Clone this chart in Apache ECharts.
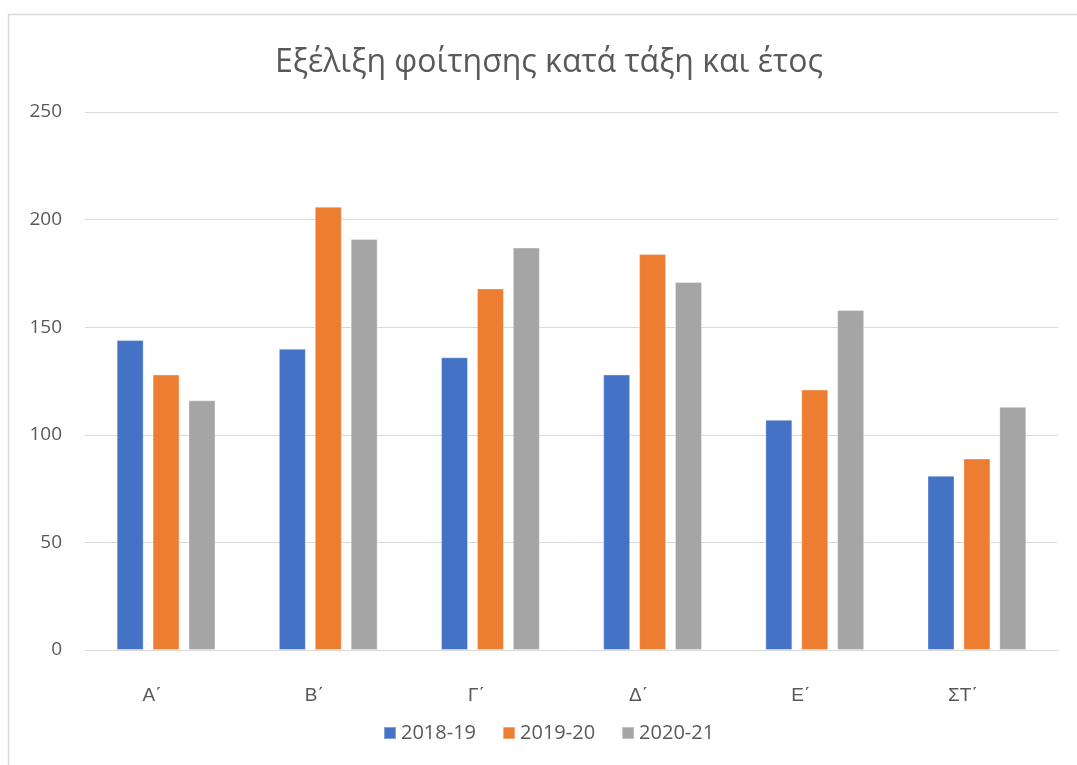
<!DOCTYPE html>
<html>
<head>
<meta charset="utf-8">
<script src="https://cdn.jsdelivr.net/npm/echarts@6/dist/echarts.min.js"></script>
<style>html,body{margin:0;padding:0;background:#fff}#c{width:1077px;height:765px}</style>
</head>
<body>
<div id="c"></div>
<script>
const categories = ['Α΄', 'Β΄', 'Γ΄', 'Δ΄', 'Ε΄', 'ΣΤ΄'];
const s2018 = [144, 140, 136, 128, 107, 81];
const s2019 = [128, 206, 168, 184, 121, 89];
const s2020 = [116, 191, 187, 171, 158, 113];
const seriesNames = ['2018-19', '2019-20', '2020-21'];
const colors = ['#4472C4', '#ED7D31', '#A5A5A5'];

const chart = echarts.init(document.getElementById('c'));
const font = 'Open Sans, Noto Sans, sans-serif';
const catFont = 'Liberation Sans, DejaVu Sans, sans-serif';
const mk = (name, data, color) => ({
  name, type: 'bar', data, barWidth: 27, barGap: '33%',
  itemStyle: { color, borderColor: 'rgba(255,255,255,0.35)', borderWidth: 1 },
  emphasis: { disabled: true }
});
chart.setOption({
  animation: false,
  title: {
    text: 'Εξέλιξη φοίτησης κατά τάξη και έτος',
    left: 270, top: 42,
    textStyle: { fontFamily: font, fontSize: 32, fontWeight: 'normal', color: '#595959' }
  },
  graphic: [{
    type: 'rect', shape: { x: 8.5, y: 14.5, width: 1200, height: 900 },
    style: { fill: 'none', stroke: '#D9D9D9', lineWidth: 1.5 }, silent: true
  }],
  legend: {
    bottom: 17, left: 378, itemWidth: 12, itemHeight: 12, itemGap: 26,
    icon: 'rect',
    textStyle: { fontFamily: font, fontSize: 20, color: '#595959' },
    data: seriesNames
  },
  grid: { left: 85, right: 19, top: 112, bottom: 115 },
  xAxis: {
    type: 'category', data: categories,
    axisLine: { lineStyle: { color: '#D9D9D9', width: 1 } },
    axisTick: { show: false },
    axisLabel: { fontFamily: catFont, fontSize: 19, color: '#595959', margin: 36, padding: [0, 28, 0, 0] }
  },
  yAxis: {
    type: 'value', min: 0, max: 250, interval: 50,
    axisLine: { show: false }, axisTick: { show: false },
    splitLine: { lineStyle: { color: '#D9D9D9', width: 1 } },
    axisLabel: { fontFamily: font, fontSize: 19, color: '#595959', margin: 23 }
  },
  series: [mk(seriesNames[0], s2018, colors[0]), mk(seriesNames[1], s2019, colors[1]), mk(seriesNames[2], s2020, colors[2])]
});
</script>
</body>
</html>
